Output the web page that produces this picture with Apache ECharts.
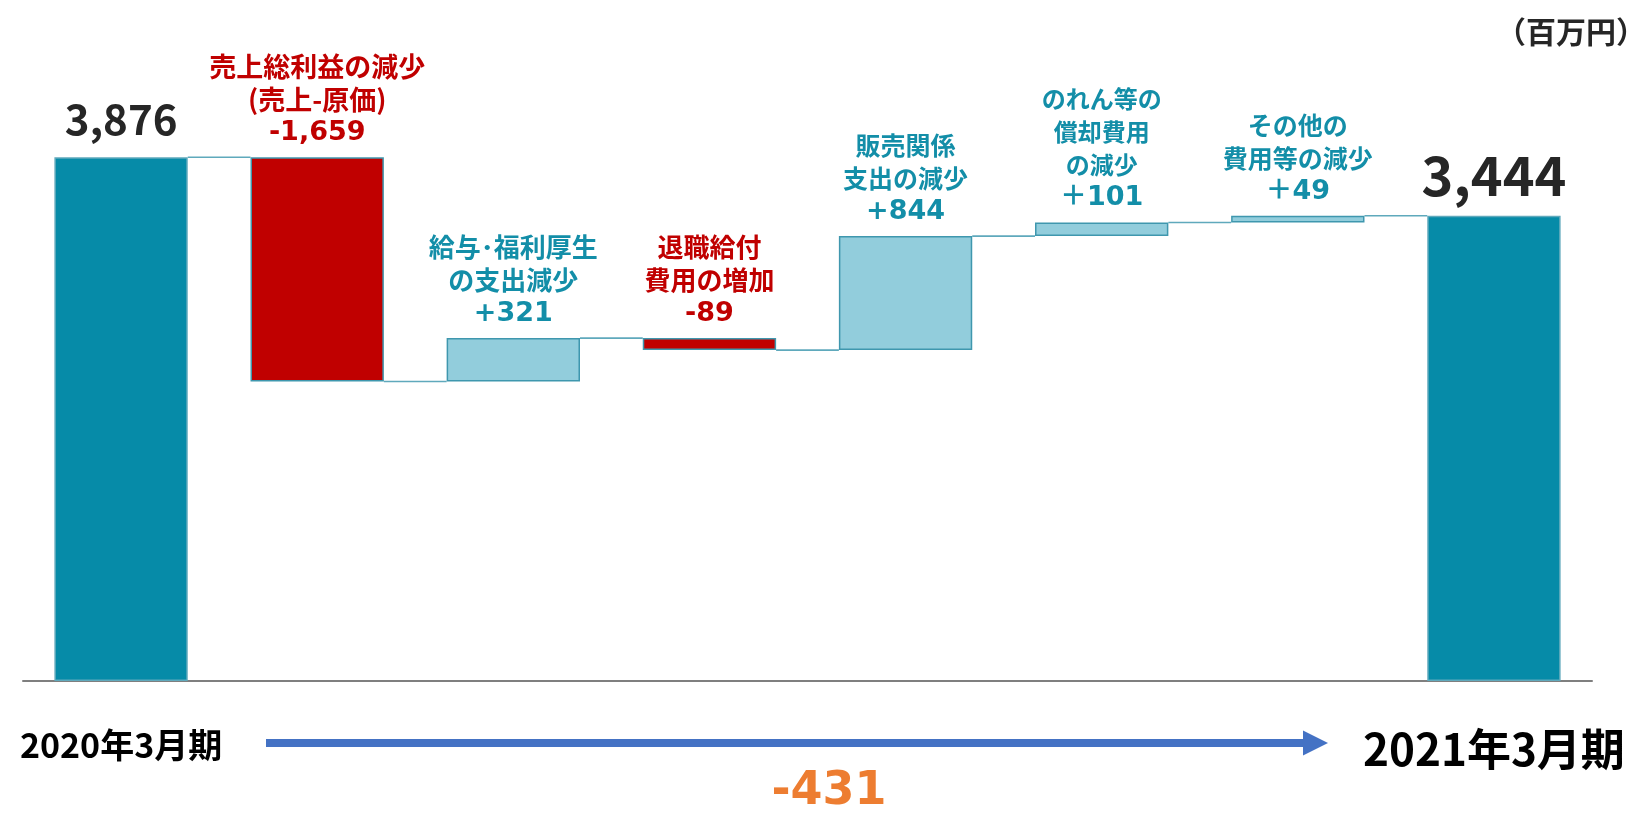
<!DOCTYPE html>
<html>
<head>
<meta charset="utf-8">
<script src="https://cdn.jsdelivr.net/npm/echarts@6/dist/echarts.min.js"></script>
<style>
html,body{margin:0;padding:0;background:#fff;}
#chart{width:1652px;height:813px;}
</style>
</head>
<body>
<div id="chart"></div>
<script>
// ---- data ----
const categories = ['2020年3月期', '売上総利益の減少', '給与・福利厚生の支出減少', '退職給付費用の増加', '販売関係支出の減少', 'のれん等の償却費用の減少', 'その他の費用等の減少', '2021年3月期'];
const changeValues = [3876, -1659, 321, -89, 844, 101, 49, 3444];
const barKinds = ['total', 'down', 'up', 'down', 'up', 'up', 'up', 'total'];
const labelNameLines = [
  [],
  ['売上総利益の減少', '(売上-原価)'],
  ['給与･福利厚生', 'の支出減少'],
  ['退職給付', '費用の増加'],
  ['販売関係', '支出の減少'],
  ['のれん等の', '償却費用', 'の減少'],
  ['その他の', '費用等の減少'],
  []
];
const labelValueTexts = ['3,876', '-1,659', '+321', '-89', '+844', '＋101', '＋49', '3,444'];
const labelFontSizes = [42, 27, 26, 26, 25, 24, 25, 54];
const unitText = '（百万円）';
const totalChangeText = '-431';

// ---- build waterfall ----
const FONT = '"Noto Sans CJK JP", "Noto Sans", sans-serif';
const NUMFONT = '"DejaVu Sans", "Noto Sans CJK JP", sans-serif';
const colors = { total: '#068BA8', down: '#C00000', up: '#92CDDC' };
const textColors = { total: '#262626', down: '#C00000', up: '#138EA8' };
const baseData = [];
const barData = [];
const connectorData = [];
let level = 0;
changeValues.forEach(function (v, i) {
  let base, h, end;
  if (barKinds[i] === 'total') {
    base = 0; h = v; end = v;
  } else {
    end = level + v;
    base = Math.min(level, end);
    h = Math.abs(v);
  }
  level = end;
  baseData.push(base);
  const kind = barKinds[i];
  const isTotal = kind === 'total';
  const fs = labelFontSizes[i];
  const lines = labelNameLines[i].map(function (s) { return '{t|' + s + '}'; });
  lines.push('{v|' + labelValueTexts[i] + '}');
  barData.push({
    value: h,
    itemStyle: {
      color: colors[kind],
      borderColor: isTotal ? '#5FA9BC' : '#3F97AE',
      borderWidth: 1.5
    },
    label: {
      show: true,
      position: 'top',
      distance: isTotal ? (i === 0 ? 14 : 9) : 7,
      formatter: lines.join('\n'),
      align: 'center',
      rich: {
        t: {
          color: textColors[kind], fontSize: fs, fontWeight: 'bold',
          fontFamily: FONT, lineHeight: 33, align: 'center'
        },
        v: isTotal ? {
          color: textColors[kind], fontSize: fs, fontWeight: 'bold',
          fontFamily: FONT, lineHeight: Math.round(fs * 1.15), align: 'center'
        } : {
          color: textColors[kind], fontSize: 27, fontWeight: 'bold',
          fontFamily: NUMFONT, lineHeight: 34, align: 'center'
        }
      }
    }
  });
  if (i < changeValues.length - 1) connectorData.push([i, end]);
});

const chart = echarts.init(document.getElementById('chart'));
chart.setOption({
  animation: false,
  backgroundColor: '#fff',
  grid: { left: 23, right: 60, top: 73, bottom: 132, containLabel: false },
  xAxis: {
    type: 'category',
    data: categories,
    axisLine: { show: true, lineStyle: { color: '#7F7F7F', width: 2 } },
    axisTick: { show: false },
    splitLine: { show: false },
    axisLabel: {
      interval: 0,
      margin: 44,
      formatter: function (v, i) {
        if (i === 0) return '{a|' + v + '}';
        if (i === categories.length - 1) return '{b|' + v + '}';
        return '';
      },
      rich: {
        a: { fontSize: 34, fontWeight: 'bold', color: '#000', fontFamily: FONT, lineHeight: 40 },
        b: { fontSize: 44, fontWeight: 'bold', color: '#000', fontFamily: FONT, lineHeight: 48 }
      }
    }
  },
  yAxis: { type: 'value', min: 0, max: 4500, show: false, splitLine: { show: false } },
  series: [
    {
      type: 'bar', stack: 'wf', barWidth: '68%', data: baseData,
      itemStyle: { color: 'transparent' }, silent: true, z: 1
    },
    {
      type: 'bar', stack: 'wf', barWidth: '68%', data: barData, z: 3
    },
    {
      type: 'custom',
      data: connectorData,
      z: 2,
      renderItem: function (params, api) {
        const i = api.value(0);
        const lv = api.value(1);
        const p = api.coord([i, lv]);
        const band = api.size([1, 0])[0];
        const w = band * 0.68;
        return {
          type: 'line',
          shape: { x1: p[0] + w / 2, y1: p[1], x2: p[0] + band - w / 2, y2: p[1] },
          style: { stroke: '#5FA9BC', lineWidth: 1.6 }
        };
      }
    }
  ],
  graphic: [
    {
      type: 'text',
      x: 1646,
      y: 32,
      style: {
        text: unitText, fontSize: 30, fontWeight: 'bold', fontFamily: FONT,
        fill: '#262626', align: 'right', verticalAlign: 'middle'
      }
    },
    {
      type: 'rect',
      shape: { x: 266, y: 739, width: 1040, height: 8 },
      style: { fill: '#4472C4' }
    },
    {
      type: 'polygon',
      shape: { points: [[1303, 730.5], [1328, 743], [1303, 755.5]] },
      style: { fill: '#4472C4' }
    },
    {
      type: 'text',
      x: 829,
      y: 792,
      style: {
        text: totalChangeText, fontSize: 46, fontWeight: 'bold', fontFamily: NUMFONT,
        fill: '#ED7D31', align: 'center', verticalAlign: 'middle'
      }
    }
  ]
});
</script>
</body>
</html>
